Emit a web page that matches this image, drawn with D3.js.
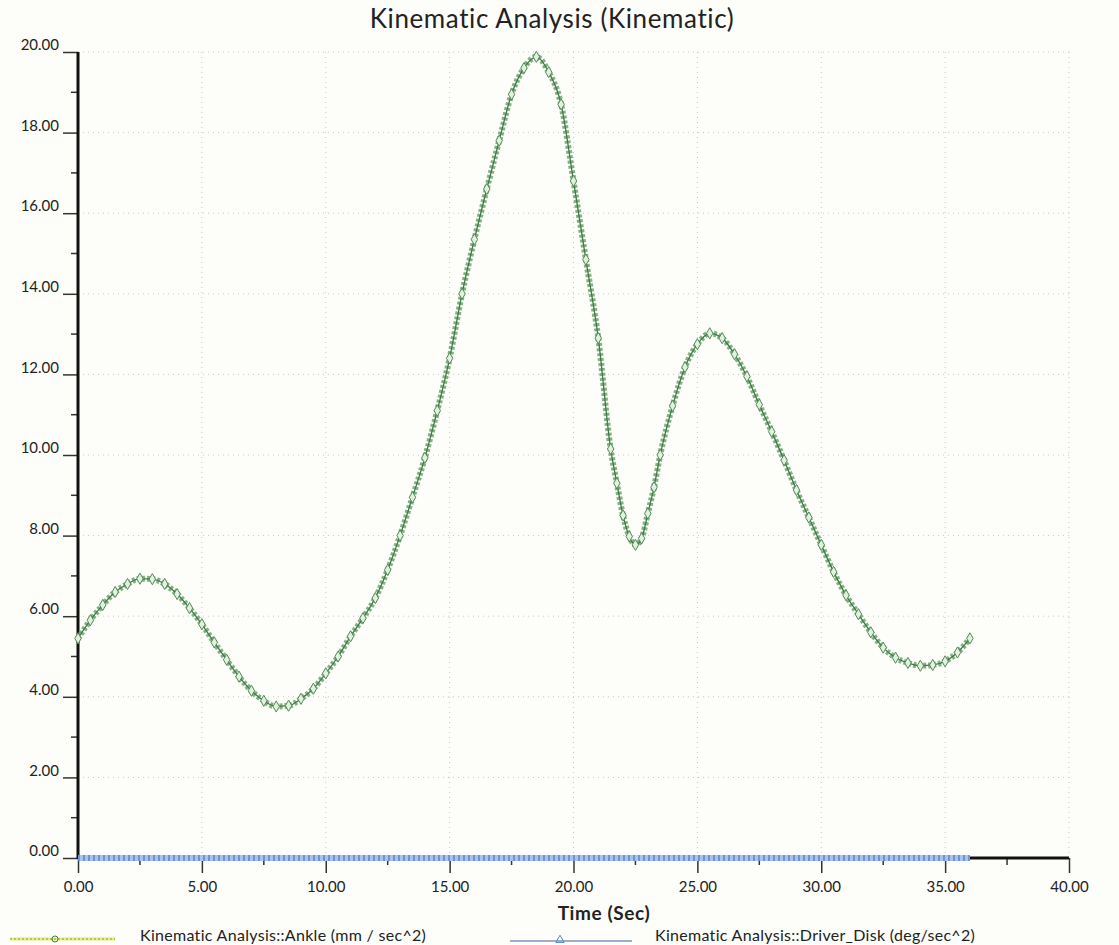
<!DOCTYPE html>
<html>
<head>
<meta charset="utf-8">
<script src="https://cdn.jsdelivr.net/npm/d3@7"></script>
<style>
  body { margin: 0; background: #fdfdfa; }
  text { font-family: Lato, "Open Sans", sans-serif; fill: #222; }
</style>
</head>
<body>
<div id="chart"></div>
<script>
// data
var times = [0,0.5,1,1.5,2,2.5,3,3.5,4,4.5,5,5.5,6,6.5,7,7.5,8,8.5,9,9.5,10,10.5,11,11.5,12,12.5,13,13.5,14,14.5,15,15.5,16,16.5,17,17.5,18,18.5,19,19.5,20,20.5,21,21.5,21.75,22,22.25,22.5,22.75,23,23.25,23.5,24,24.5,25,25.5,26,26.5,27,27.5,28,28.5,29,29.5,30,30.5,31,31.5,32,32.5,33,33.5,34,34.5,35,35.5,36];
var ankle = [5.45,5.9,6.28,6.6,6.8,6.93,6.92,6.8,6.55,6.2,5.8,5.35,4.92,4.5,4.15,3.9,3.76,3.78,3.95,4.2,4.58,5.0,5.5,5.95,6.45,7.15,8.0,8.95,9.93,11.1,12.4,14.0,15.35,16.6,17.8,18.95,19.6,19.88,19.5,18.7,16.8,14.85,12.9,10.15,9.3,8.5,7.98,7.77,7.93,8.55,9.2,10.0,11.22,12.18,12.75,13.02,12.9,12.5,11.95,11.25,10.58,9.87,9.13,8.45,7.77,7.1,6.52,6.05,5.6,5.22,4.97,4.84,4.77,4.79,4.88,5.1,5.45];
var driverDisk = times.map(function(){ return 0; });

var xTicks = [0,5,10,15,20,25,30,35,40];
var yTicks = [0,2,4,6,8,10,12,14,16,18,20];
var title = "Kinematic Analysis (Kinematic)";
var xLabel = "Time (Sec)";
var legendNames = ["Kinematic Analysis::Ankle (mm / sec^2)", "Kinematic Analysis::Driver_Disk (deg/sec^2)"];

var w = 1119;
var h = 945;
var padL = 78, padR = 1069, padT = 52, padB = 858;

var svg = d3.select("#chart")
            .append("svg")
            .attr("width", w)
            .attr("height", h);

var x = d3.scaleLinear().domain([0,40]).range([padL,padR]);
var y = d3.scaleLinear().domain([0,20]).range([padB,padT]);

// title
svg.append("text")
    .attr("x", 552).attr("y", 28)
    .attr("text-anchor","middle")
    .style("font-size","26px")
    .style("letter-spacing","0.6px")
    .text(title);

// dotted grid
svg.append("g")
    .selectAll("line")
    .data(xTicks.slice(1))
    .enter()
    .append("line")
    .attr("x1", function(d){ return x(d); })
    .attr("x2", function(d){ return x(d); })
    .attr("y1", padT).attr("y2", padB)
    .attr("stroke","#c8c8c8")
    .attr("stroke-dasharray","1,4");

svg.append("g")
    .selectAll("line")
    .data(yTicks.slice(1))
    .enter()
    .append("line")
    .attr("y1", function(d){ return y(d); })
    .attr("y2", function(d){ return y(d); })
    .attr("x1", padL).attr("x2", padR)
    .attr("stroke","#c8c8c8")
    .attr("stroke-dasharray","1,4");

// y axis
var yAxis = d3.axisLeft(y)
    .tickValues(yTicks)
    .tickSize(15)
    .tickPadding(4)
    .tickFormat(d3.format(".2f"));
var gy = svg.append("g")
    .attr("transform","translate(" + padL + ",0)")
    .call(yAxis);
gy.select(".domain").remove();
gy.selectAll(".tick line").attr("stroke","#333").attr("stroke-width",1.5);
gy.selectAll(".tick text").style("font-size","15px").attr("fill","#222").attr("dy","-0.15em");

// y minor ticks
svg.append("g")
    .selectAll("line")
    .data(d3.range(1,20,2))
    .enter()
    .append("line")
    .attr("x1", padL-7).attr("x2", padL)
    .attr("y1", function(d){ return y(d); })
    .attr("y2", function(d){ return y(d); })
    .attr("stroke","#333").attr("stroke-width",1.5);

// x axis
var xAxis = d3.axisBottom(x)
    .tickValues(xTicks)
    .tickSize(15)
    .tickPadding(8)
    .tickFormat(d3.format(".2f"));
var gx = svg.append("g")
    .attr("transform","translate(0," + padB + ")")
    .call(xAxis);
gx.select(".domain").remove();
gx.selectAll(".tick line").attr("stroke","#333").attr("stroke-width",1.5);
gx.selectAll(".tick text").style("font-size","15px").attr("fill","#222");

svg.append("g")
    .selectAll("line")
    .data(d3.range(2.5,40,5))
    .enter()
    .append("line")
    .attr("x1", function(d){ return x(d); })
    .attr("x2", function(d){ return x(d); })
    .attr("y1", padB).attr("y2", padB+7)
    .attr("stroke","#333").attr("stroke-width",1.5);

// thick axis lines
svg.append("line")
    .attr("x1", padL).attr("x2", padL)
    .attr("y1", padT).attr("y2", padB+1)
    .attr("stroke","#111").attr("stroke-width",3);
svg.append("line")
    .attr("x1", padL).attr("x2", padR)
    .attr("y1", padB).attr("y2", padB)
    .attr("stroke","#111").attr("stroke-width",3);

svg.append("text")
    .attr("x", 604).attr("y", 920)
    .attr("text-anchor","middle")
    .style("font-size","19px")
    .style("font-weight","bold")
    .style("letter-spacing","0.6px")
    .text(xLabel);

// series
var line = d3.line()
    .x(function(d){ return x(d[0]); })
    .y(function(d){ return y(d[1]); })
    .curve(d3.curveMonotoneX);

var diskData = d3.zip(times, driverDisk);
svg.append("path")
    .attr("d", line(diskData))
    .attr("fill","none")
    .attr("stroke","#a9c3ec")
    .attr("stroke-width",6);
svg.append("path")
    .attr("d", line(diskData))
    .attr("fill","none")
    .attr("stroke","#6c95d6")
    .attr("stroke-width",6)
    .attr("stroke-dasharray","2,3");

var ankleData = d3.zip(times, ankle);
svg.append("path")
    .attr("d", line(ankleData))
    .attr("fill","none")
    .attr("stroke","#6ea46e")
    .attr("stroke-width",6)
    .attr("stroke-dasharray","3,2")
    .attr("opacity",0.85);
svg.append("path")
    .attr("d", line(ankleData))
    .attr("fill","none")
    .attr("stroke","#3e7a46")
    .attr("stroke-width",1.3);

var diamond = d3.symbol().type(d3.symbolDiamond).size(36);
svg.append("g")
    .selectAll("path")
    .data(ankleData)
    .enter()
    .append("path")
    .attr("d", diamond)
    .attr("transform", function(d){ return "translate(" + x(d[0]) + "," + y(d[1]) + ")"; })
    .attr("fill","#e4efdf")
    .attr("stroke","#4f8c55")
    .attr("stroke-width",1);

// legend
var lg = svg.append("g");
lg.append("line").attr("x1",10).attr("x2",115).attr("y1",939).attr("y2",939)
    .attr("stroke","#ecec70").attr("stroke-width",3);
lg.append("line").attr("x1",10).attr("x2",115).attr("y1",939).attr("y2",939)
    .attr("stroke","#6f9a6f").attr("stroke-width",1).attr("stroke-dasharray","2,2");
lg.append("circle").attr("cx",55).attr("cy",939).attr("r",3)
    .attr("fill","none").attr("stroke","#3e7a46");
lg.append("text").attr("x",140).attr("y",941).style("font-size","16px")
    .style("letter-spacing","0.3px").attr("fill","#333").text(legendNames[0]);

lg.append("line").attr("x1",510).attr("x2",632).attr("y1",941).attr("y2",941)
    .attr("stroke","#9ab0cc").attr("stroke-width",2);
lg.append("path").attr("d", d3.symbol().type(d3.symbolTriangle).size(30))
    .attr("transform","translate(560,940)")
    .attr("fill","none").attr("stroke","#5b86cc");
lg.append("text").attr("x",655).attr("y",941).style("font-size","16px")
    .style("letter-spacing","0.3px").attr("fill","#333").text(legendNames[1]);
</script>
</body>
</html>
